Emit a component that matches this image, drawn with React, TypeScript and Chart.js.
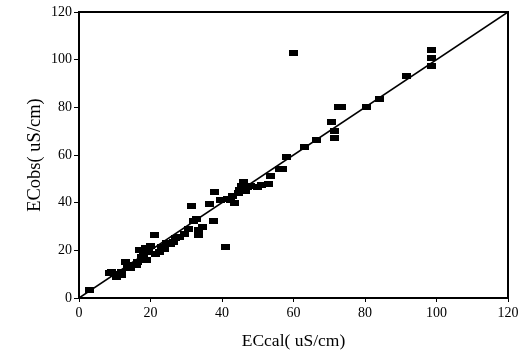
import React, { useEffect, useRef } from "react";
import { Chart, registerables } from "chart.js";

Chart.register(...registerables);

const ecCal: number[] = [
  3, 8.5, 9, 10, 10.5, 11.5, 12, 12, 13, 13.5, 14.5, 15, 16, 16.5, 17, 17.5, 18, 18.5, 19, 19.5,
  20, 21, 21.5, 22.5, 23, 24, 24.5, 25.5, 26.5, 27, 28, 29.5, 30.5, 31.5, 32, 33, 33.5, 33.5, 34.5, 36.5,
  37.5, 38, 39.5, 41, 41.5, 42.5, 43, 43.5, 44.5, 45, 45.5, 46, 46.5, 47, 48, 50, 51, 53, 53.5, 56,
  57, 58, 60, 63, 66.5, 70.5, 71.5, 71.5, 72.5, 73.5, 80.5, 84, 91.5, 98.5, 98.5, 98.5,
];
const ecObs: number[] = [
  3.5, 10.5, 11, 10, 9, 10, 9.5, 11, 15, 13, 12.5, 14, 14, 15, 20, 17, 18, 21, 16, 19.5,
  22, 26.5, 18.5, 19.5, 21.5, 20.5, 23, 22.5, 23.5, 25, 25.5, 27, 29, 38.5, 32.5, 33, 28.5, 26.5, 30, 39.5,
  32.5, 44.5, 41, 21.5, 41.5, 41, 43, 40, 44, 45.5, 47, 48.5, 45, 46.5, 47, 46.5, 47.5, 48, 51, 54,
  54, 59, 103, 63.5, 66.5, 74, 70, 67, 80, 80, 80, 83.5, 93, 104, 100.5, 97.5,
];
const tickValues: number[] = [0, 20, 40, 60, 80, 100, 120];
const lineX: number[] = [0, 120];
const lineY: number[] = [0, 120];

export default function App() {
  const ref = useRef<HTMLCanvasElement | null>(null);
  useEffect(() => {
    if (!ref.current) return;
    const marker = document.createElement("canvas");
    marker.width = 9;
    marker.height = 6;
    const mctx = marker.getContext("2d")!;
    mctx.fillStyle = "#000";
    mctx.fillRect(0, 0, 9, 6);

    const frame = {
      id: "frame",
      afterDatasetsDraw(chart: any) {
        const { ctx, chartArea } = chart;
        ctx.save();
        ctx.strokeStyle = "#000";
        ctx.lineWidth = 2;
        ctx.strokeRect(chartArea.left, chartArea.top, chartArea.right - chartArea.left, chartArea.bottom - chartArea.top);
        ctx.restore();
      },
    };

    const fam = "'Liberation Serif', 'DejaVu Serif', serif";
    const tickFont = { family: fam, size: 14 };

    const chart = new Chart(ref.current, {
      type: "scatter",
      data: {
        datasets: [
          {
            data: lineX.map((x, i) => ({ x, y: lineY[i] })),
            showLine: true,
            borderColor: "#000",
            borderWidth: 1.6,
            pointRadius: 0,
          },
          {
            data: ecCal.map((x, i) => ({ x, y: ecObs[i] })),
            pointStyle: marker as any,
            pointRadius: 5,
            backgroundColor: "#000",
            borderColor: "#000",
          },
        ],
      },
      options: {
        animation: false,
        responsive: false,
        maintainAspectRatio: false,
        layout: { padding: { left: 0, top: 12, right: 17, bottom: 0 } },
        plugins: { legend: { display: false }, tooltip: { enabled: false } },
        scales: {
          x: {
            type: "linear",
            min: 0,
            max: 120,
            afterBuildTicks: (s: any) => {
              s.ticks = tickValues.map((v) => ({ value: v }));
            },
            afterFit: (s: any) => {
              s.height = 56;
            },
            ticks: { color: "#000", font: tickFont, padding: 3, maxRotation: 0 },
            grid: { drawOnChartArea: false, drawTicks: true, tickLength: 4, color: "#000", lineWidth: 1 },
            border: { display: true, color: "#000", width: 2 },
            title: { display: true, text: "ECcal( uS/cm)", color: "#000", font: { family: fam, size: 17.5 }, padding: { top: 2, bottom: 2 } },
          },
          y: {
            type: "linear",
            min: 0,
            max: 120,
            afterBuildTicks: (s: any) => {
              s.ticks = tickValues.map((v) => ({ value: v }));
            },
            afterFit: (s: any) => {
              s.width = 79;
            },
            ticks: { color: "#000", font: tickFont, padding: 2 },
            grid: { drawOnChartArea: false, drawTicks: true, tickLength: 5, color: "#000", lineWidth: 1 },
            border: { display: true, color: "#000", width: 2 },
            title: { display: true, text: "ECobs( uS/cm)", color: "#000", font: { family: fam, size: 18.5 }, padding: { top: 24, bottom: 0 } },
          },
        },
      },
      plugins: [frame],
    });
    return () => chart.destroy();
  }, []);

  return (
    <div style={{ position: "fixed", left: 0, top: 0, width: 525, height: 354, background: "#fff" }}>
      <canvas ref={ref} width={525} height={354} style={{ width: 525, height: 354, display: "block" }} />
    </div>
  );
}
